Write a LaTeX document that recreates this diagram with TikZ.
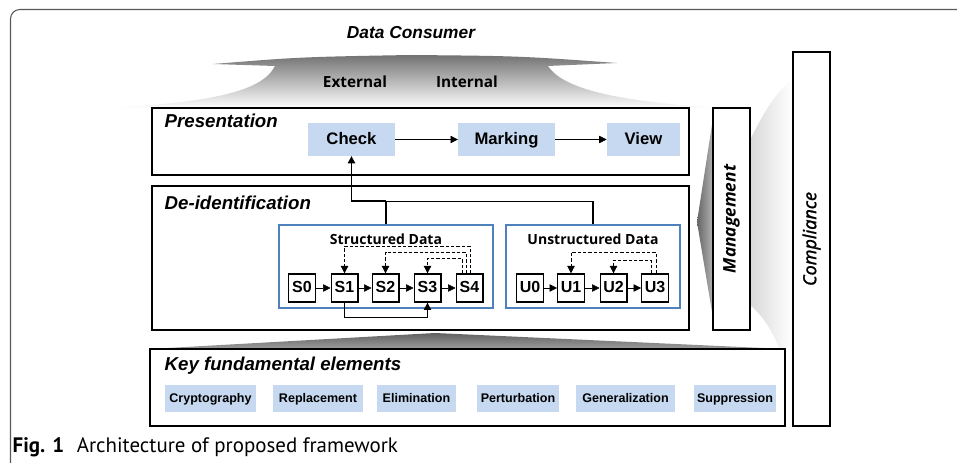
\documentclass[tikz,border=0pt]{standalone}
\usepackage{fontspec}
\setmainfont{Liberation Sans}
\newfontfamily\gothic{Open Sans}
\newfontfamily\gothicsemi[FakeBold=1.2]{Noto Sans}
\newfontfamily\capfont{PT Sans}
\usepackage{xcolor}
\usepackage{tikz}
\usetikzlibrary{positioning,calc,arrows.meta,fit}

\definecolor{opblue}{HTML}{C6D9F0}
\definecolor{frameblue}{HTML}{4F81BD}

\tikzset{
    layer/.style={draw, line width=1.5pt, fill=white, inner sep=0pt},
    layertitle/.style={anchor=west, font=\fontsize{14}{16}\selectfont\bfseries\itshape},
    opbox/.style={fill=opblue, minimum height=24.5pt, inner sep=0pt, text height=0.72em, text depth=0pt,
        font=\fontsize{12.5}{14}\selectfont\bfseries},
    elem/.style={fill=opblue, minimum height=20pt, inner sep=0pt, text height=0.72em, text depth=0.1em,
        font=\fontsize{9.4}{11}\selectfont\bfseries},
    datagroup/.style={draw=frameblue, line width=1.4pt, inner sep=0pt},
    stage/.style={draw, line width=1pt, fill=white, minimum width=20pt, minimum height=21pt, inner sep=0pt,
        text height=0.72em, text depth=0pt, font=\fontsize{12}{14}\selectfont\bfseries},
    tip/.style={-{Triangle[length=5.5pt,width=5.5pt]}},
    fb/.style={tip, dash pattern=on 2.5pt off 1.5pt, line width=0.6pt}
}

\begin{document}
\begin{tikzpicture}[x=0.75pt, y=-0.75pt]
    \useasboundingbox (0,0) rectangle (957,463);

    % Frame
    \draw[black!65, line width=0.8pt, rounded corners=7pt] (10.5,480) -- (10.5,9.5) -- (970,9.5);

    % Data consumer
    \node[font=\fontsize{13}{15}\selectfont\bfseries\itshape] (consumer) at (411,33) {Data Consumer};
    \shade[top color=black!55, bottom color=white]
        (213,64) .. controls (300,57) .. (410,55) .. controls (520,56) .. (617,63)
        -- (548,66) .. controls (565,92) and (630,102) .. (720,108)
        -- (110,108) .. controls (210,102) and (262,92) .. (275,66) -- cycle;
    \node[font=\gothic\fontsize{11.5}{13}\selectfont\bfseries] (external) at (355,82) {External};
    \node[font=\gothic\fontsize{11.5}{13}\selectfont\bfseries] (internal) at (467,82) {Internal};

    % Side wedges
    \shade[left color=black!15, right color=white]
        (750,140) .. controls (765,110) and (776,92) .. (792,80) -- (792,345)
        -- (780,350) .. controls (772,330) and (762,315) .. (750,305) -- cycle;
    \shade[left color=black!60, right color=black!30] (713,118) -- (697,222) -- (713,318) -- cycle;
    \shade[top color=black!62, bottom color=black!38] (150,349) -- (435,333) -- (785,349) -- cycle;

    % Presentation
    \node[layer, fit={(152,108) (689,175)}] (presentation) {};
    \node[layertitle] at (160,121) {Presentation};
    \node[opbox, minimum width=65pt] (check) at (351.5,139.5) {Check};
    \node[opbox, minimum width=72.5pt] (marking) at (506.5,139.5) {Marking};
    \node[opbox, minimum width=55pt] (view) at (643.5,139.5) {View};
    \draw[tip] (check) -- (marking);
    \draw[tip] (marking) -- (view);

    % De-identification
    \node[layer, fit={(152,186) (689,330)}] (deid) {};
    \node[layertitle] at (160,203) {De-identification};
    \node[datagroup, fit={(279,225) (493,308)}] (sdata) {};
    \node[datagroup, fit={(506,225) (680,308)}] (udata) {};
    \node[font=\gothic\fontsize{10.5}{12}\selectfont\bfseries] at (386,239) {Structured Data};
    \node[font=\gothic\fontsize{10.5}{12}\selectfont\bfseries] at (593,239) {Unstructured Data};

    \foreach \i/\cx in {0/302,1/344.5,2/385.5,3/427.5,4/469.5}
        \node[stage] (s\i) at (\cx,288) {S\i};
    \foreach \i/\cx in {0/530,1/571,2/613.5,3/655}
        \node[stage] (u\i) at (\cx,288) {U\i};
    \foreach \a/\b in {0/1,1/2,2/3,3/4}
        \draw[tip] (s\a) -- (s\b);
    \foreach \a/\b in {0/1,1/2,2/3}
        \draw[tip] (u\a) -- (u\b);

    % feedback loops
    \draw[fb] ($(s4.north)+(0.5,0)$) -- ++(0,-27) -| (s1.north);
    \draw[fb] ($(s4.north)+(-3.5,0)$) -- ++(0,-21) -| (s2.north);
    \draw[fb] ($(s4.north)+(-7.5,0)$) -- ++(0,-15) -| (s3.north);
    \draw[fb] ($(u3.north)+(1,0)$) -- ++(0,-21) -| (u1.north);
    \draw[fb] ($(u3.north)+(-4,0)$) -- ++(0,-13) -| (u2.north);
    \draw[tip, line width=0.8pt] (s1.south) -- ++(0,15) -| (s3.south);

    % to presentation
    \draw[line width=0.8pt] (sdata.north) -- ++(0,-23) coordinate (merge);
    \draw[line width=0.8pt] (udata.north) |- (merge);
    \draw[tip, line width=1.3pt] (merge) -| (check.south);

    % Management and compliance
    \node[layer, fit={(713,108) (750,330)}] (management) {};
    \node[rotate=90, font=\gothic\fontsize{13}{15}\selectfont\bfseries\itshape] at (management.center) {Management};
    \node[layer, fit={(793,52) (830,426)}] (compliance) {};
    \node[rotate=90, font=\gothicsemi\fontsize{13.5}{15}\selectfont\itshape] at (compliance.center) {Compliance};

    % Key fundamental elements
    \node[layer, fit={(150,349) (785,426)}] (keyel) {};
    \node[layertitle] at (160,366) {Key fundamental elements};
    \foreach \nm/\cx/\w/\lbl in {crypt/210.5/68/Cryptography, repl/318/67.5/Replacement,
        elim/416.5/59/Elimination, pert/518/61.5/Perturbation,
        gen/625.5/74/Generalization, supp/735/61.5/Suppression}
        \node[elem, minimum width=\w pt] (\nm) at (\cx,398.5) {\lbl};

    % Caption
    \node[anchor=west, font=\capfont\fontsize{15.7}{17}\selectfont] (caption) at (8,447)
        {\textbf{Fig. 1}\hspace{0.6em}Architecture of proposed framework};
\end{tikzpicture}
\end{document}
